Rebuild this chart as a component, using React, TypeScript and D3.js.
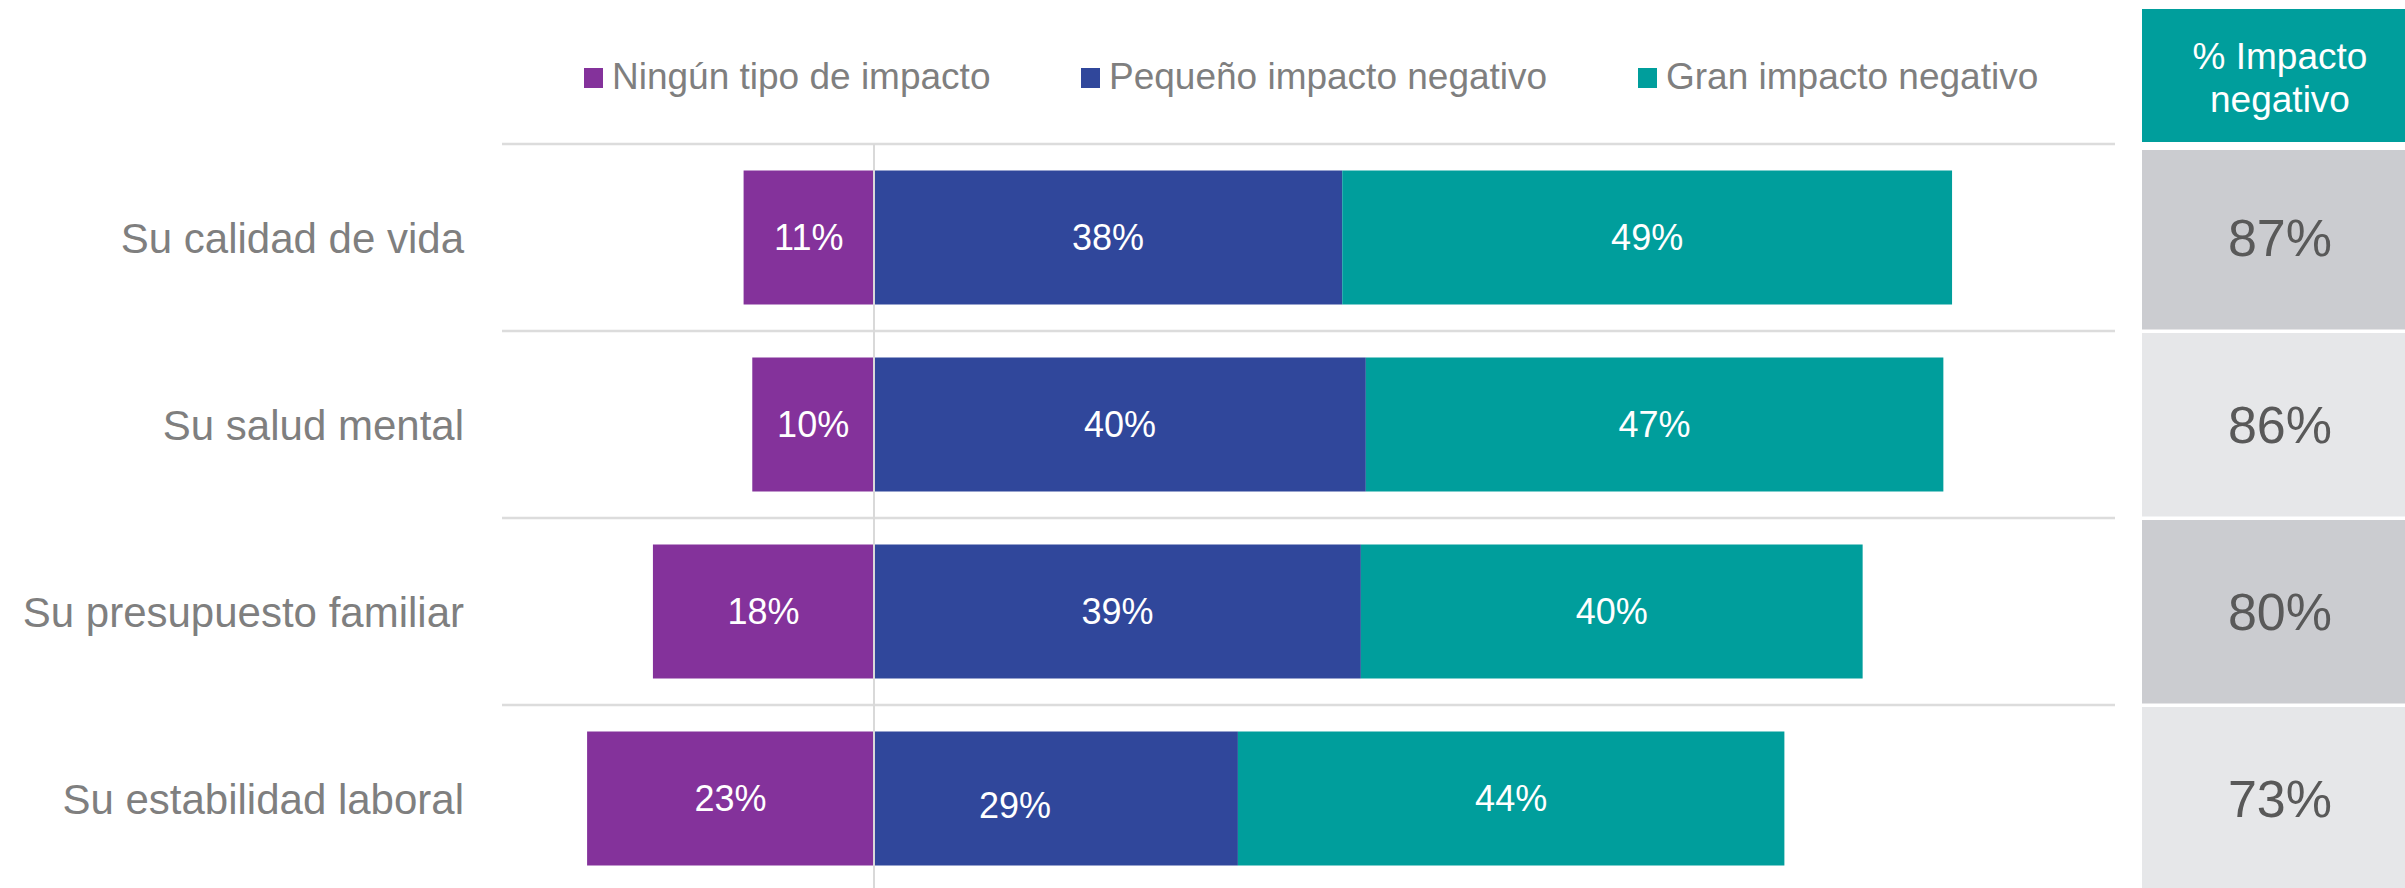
import React, { useRef, useEffect } from 'react'
import * as d3 from 'd3'

const categories = [
  'Su calidad de vida',
  'Su salud mental',
  'Su presupuesto familiar',
  'Su estabilidad laboral',
]
// segment values (labels show them rounded)
const ningun = [10.5, 9.8, 17.8, 23.1]
const pequeno = [37.7, 39.6, 39.2, 29.3]
const gran = [49.1, 46.5, 40.4, 44.0]
const totalNegativo = [87, 86, 80, 73]
const seriesNames = ['Ningún tipo de impacto', 'Pequeño impacto negativo', 'Gran impacto negativo']
const panelTitle = ['% Impacto', 'negativo']

const PURPLE = '#84329B'
const BLUE = '#30479B'
const TEAL = '#009E9C'

export default function App() {
  const svgRef = useRef<SVGSVGElement>(null)

  useEffect(() => {
    document.body.style.margin = '0'
    const svg = d3.select(svgRef.current)
    svg.selectAll('*').remove()

    const width = 2405, height = 888
    const font = '"Liberation Sans", Arial, sans-serif'
    svg.attr('width', width).attr('height', height).style('display', 'block')

    const x = d3.scaleLinear().domain([0, 100]).range([874, 874 + 1242])
    const y = d3.scaleBand().domain(categories).range([144, 144 + 187 * 4])
    const barH = 134
    const barY = (c: string) => (y(c) as number) + (y.step() - barH) / 2
    const color = d3.scaleOrdinal<string>().domain(seriesNames).range([PURPLE, BLUE, TEAL])

    // legend
    const legendX = [584, 1081, 1638]
    const legend = svg.append('g')
    seriesNames.forEach((name, i) => {
      legend.append('rect').attr('x', legendX[i]).attr('y', 68).attr('width', 19).attr('height', 20)
        .attr('fill', color(name))
      legend.append('text').attr('x', legendX[i] + 28).attr('y', 89)
        .attr('font-family', font).attr('font-size', 37).attr('fill', '#7F7F7F')
        .text(name)
    })

    // row separators
    categories.forEach(c => {
      svg.append('line')
        .attr('x1', 502).attr('x2', 2115)
        .attr('y1', y(c) as number).attr('y2', y(c) as number)
        .attr('stroke', '#DCDCDC').attr('stroke-width', 2.5)
    })

    // category labels
    svg.append('g').selectAll('text').data(categories).join('text')
      .attr('x', 464).attr('y', d => (y(d) as number) + y.step() / 2)
      .attr('dy', '0.36em').attr('text-anchor', 'end')
      .attr('font-family', font).attr('font-size', 42).attr('fill', '#7F7F7F')
      .text(d => d)

    type Seg = { cat: string, key: string, x0: number, x1: number, v: number, i: number }
    const segs: Seg[] = []
    categories.forEach((c, i) => {
      segs.push({ cat: c, key: seriesNames[0], x0: -ningun[i], x1: 0, v: ningun[i], i })
      segs.push({ cat: c, key: seriesNames[1], x0: 0, x1: pequeno[i], v: pequeno[i], i })
      segs.push({ cat: c, key: seriesNames[2], x0: pequeno[i], x1: pequeno[i] + gran[i], v: gran[i], i })
    })

    const bars = svg.append('g')
    bars.selectAll('rect').data(segs).join('rect')
      .attr('x', d => x(d.x0)).attr('width', d => x(d.x1) - x(d.x0))
      .attr('y', d => barY(d.cat)).attr('height', barH)
      .attr('fill', d => color(d.key))

    // quirk in the original: the 29% label sits left/low of centre
    const nudge = (d: Seg) => (d.cat === 'Su estabilidad laboral' && d.key === seriesNames[1]) ? [-41, 7] : [0, 0]

    bars.selectAll('text').data(segs).join('text')
      .attr('x', d => (x(d.x0) + x(d.x1)) / 2 + nudge(d)[0])
      .attr('y', d => barY(d.cat) + barH / 2 + nudge(d)[1])
      .attr('dy', '0.36em').attr('text-anchor', 'middle')
      .attr('font-family', font).attr('font-size', 36).attr('fill', '#fff')
      .text(d => Math.round(d.v) + '%')

    // zero line
    svg.append('line')
      .attr('x1', x(0)).attr('x2', x(0)).attr('y1', 144).attr('y2', height)
      .attr('stroke', '#D9D9D9').attr('stroke-width', 2)

    // right panel
    const px0 = 2142, px1 = width
    const pcx = 2280
    svg.append('rect').attr('x', px0).attr('y', 9).attr('width', px1 - px0).attr('height', 133).attr('fill', TEAL)
    svg.append('text').attr('x', pcx).attr('y', 69)
      .attr('text-anchor', 'middle').attr('font-family', font).attr('font-size', 37).attr('fill', '#fff')
      .text(panelTitle[0])
    svg.append('text').attr('x', pcx).attr('y', 112)
      .attr('text-anchor', 'middle').attr('font-family', font).attr('font-size', 37).attr('fill', '#fff')
      .text(panelTitle[1])

    const panel = svg.append('g')
    categories.forEach((c, i) => {
      const top = i === 0 ? 150 : (y(c) as number) + 2
      const bottom = i === categories.length - 1 ? height : (y(c) as number) + y.step() - 1.5
      panel.append('rect').attr('x', px0).attr('y', top).attr('width', px1 - px0).attr('height', bottom - top)
        .attr('fill', i % 2 === 0 ? '#CBCCD0' : '#E6E7E9')
      panel.append('text').attr('x', pcx).attr('y', (y(c) as number) + y.step() / 2)
        .attr('dy', '0.36em').attr('text-anchor', 'middle')
        .attr('font-family', font).attr('font-size', 52).attr('fill', '#595959')
        .text(totalNegativo[i] + '%')
    })
  }, [])

  return <svg ref={svgRef} />
}
